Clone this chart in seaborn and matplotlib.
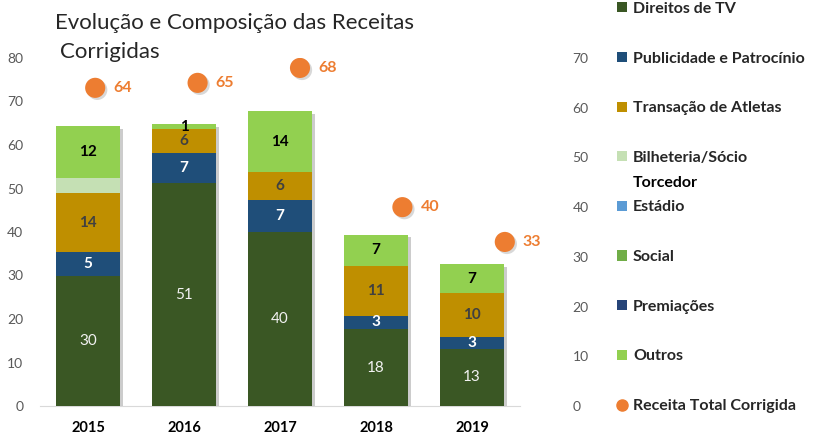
import numpy as np
import seaborn as sns
import matplotlib.pyplot as plt
import matplotlib.patheffects as pe
from matplotlib.lines import Line2D
from matplotlib.patches import Patch

# Dados (bilhões de R$)
anos = ['2015', '2016', '2017', '2018', '2019']
direitos_tv = [30.0, 51.2, 40.0, 17.7, 13.2]
publicidade = [5.3, 6.9, 7.3, 3.0, 2.7]
transacao = [13.6, 5.6, 6.4, 11.4, 10.0]
bilheteria = [3.5, 0, 0, 0, 0]
estadio = [0, 0, 0, 0, 0]
social = [0, 0, 0, 0, 0]
premiacoes = [0, 0, 0, 0, 0]
outros = [11.9, 1.1, 14.1, 7.3, 6.8]
receita_total = [64, 65, 68, 40, 33]

nomes = ['Direitos de TV', 'Publicidade e Patrocínio', 'Transação de Atletas',
         'Bilheteria/Sócio', 'Estádio', 'Social', 'Premiações', 'Outros']
series = [direitos_tv, publicidade, transacao, bilheteria, estadio, social, premiacoes, outros]
cores = ['#3A5724', '#1F4E79', '#BF8F00', '#C5E0B4', '#5B9BD5', '#70AD47', '#264478', '#92D050']
# estilo dos rotulos: (cor, peso) ou None
rotulos = [('#F2F2F2', 'normal'), ('white', 'bold'), ('#404040', 'bold'), None,
           None, None, None, ('black', 'bold')]
laranja = '#ED7D31'

sns.set_style('white')
plt.rcParams['font.family'] = ['Lato', 'DejaVu Sans']

fig = plt.figure(figsize=(8.16, 4.36), dpi=100)
ax = fig.add_axes([40 / 816, 30 / 436, 480 / 816, 348 / 436])

x = np.arange(len(anos))
base = np.zeros(len(anos))
sombra = [pe.SimplePatchShadow(offset=(2, -2), shadow_rgbFace='#808080', alpha=0.4), pe.Normal()]
for i, (nome, vals, cor) in enumerate(zip(nomes, series, cores)):
    vals = np.array(vals, dtype=float)
    c = ax.bar(x, vals, bottom=base, width=0.667, color=cor,
               zorder=20 - i, linewidth=0)
    for p in c.patches:
        p.set_path_effects(sombra)
    if rotulos[i] is not None:
        cor_txt, peso = rotulos[i]
        ax.bar_label(c, labels=[f'{v:.0f}' if v > 0 else '' for v in vals],
                     label_type='center', color=cor_txt, fontweight=peso,
                     fontsize=11, zorder=30)
    base = base + vals

ax.set_xlim(-0.5, 4.5)
ax.set_ylim(0, 80)
ax.set_yticks(range(0, 90, 10))
ax.set_xticks(x)
ax.set_xticklabels(anos, fontweight='bold', fontsize=10.5, color='black')
ax.tick_params(axis='x', length=0, pad=11)
ax.tick_params(axis='y', length=0, pad=12, labelsize=10, labelcolor='#595959')
sns.despine(ax=ax, left=True)
ax.spines['bottom'].set_color('#D9D9D9')
ax.patch.set_alpha(0)

# eixo secundario para a receita total
ax2 = fig.add_axes([44 / 816, 30 / 436, 512 / 816, 348 / 436])
ax2.patch.set_alpha(0)
sns.scatterplot(x=x, y=receita_total, ax=ax2, s=210, color=laranja,
                edgecolor='none', zorder=40)
for col in ax2.collections:
    col.set_path_effects([pe.SimplePatchShadow(offset=(1.5, -1.5), shadow_rgbFace='#808080',
                                               alpha=0.3), pe.Normal()])
for xi, v in zip(x, receita_total):
    ax2.annotate(f'{v}', (xi, v), xytext=(13, 0), textcoords='offset points',
                 ha='left', va='center', color=laranja, fontweight='bold', fontsize=11.5)
ax2.set_xlim(-0.5, 4.5)
ax2.set_ylim(0, 70)
ax2.set_yticks(range(0, 80, 10))
ax2.set_xticks([])
ax2.yaxis.tick_right()
ax2.tick_params(axis='y', length=0, pad=12, labelsize=10, labelcolor='#595959')
for s in ax2.spines.values():
    s.set_visible(False)

# titulo em duas linhas
fig.text(55 / 816, 1 - 29 / 436, 'Evolução e Composição das Receitas',
         ha='left', va='baseline', fontsize=16, color='#262626')
fig.text(60 / 816, 1 - 58 / 436, 'Corrigidas',
         ha='left', va='baseline', fontsize=16, color='#262626')

handles = [Patch(facecolor=c, edgecolor='none') for c in cores]
handles.append(Line2D([], [], marker='o', linestyle='none', color=laranja, markersize=8))
labels = nomes + ['Receita Total Corrigida']
leg = fig.legend(handles, labels, loc='upper left', bbox_to_anchor=(617 / 816, 1 - 2 / 436),
                 frameon=False, prop={'weight': 'bold', 'size': 11.5},
                 labelspacing=2.23, handlelength=0.6, handleheight=0.6,
                 handletextpad=0.4, borderpad=0, borderaxespad=0)

# segunda linha do item "Bilheteria/Sócio Torcedor"
fig.canvas.draw()
bb = leg.get_texts()[3].get_window_extent().transformed(fig.transFigure.inverted())
fig.text(bb.x0, bb.y0 - 11 / 436, 'Torcedor', ha='left', va='top',
         fontsize=11.5, fontweight='bold', color='black')

fig.savefig('out.png', dpi=100)
